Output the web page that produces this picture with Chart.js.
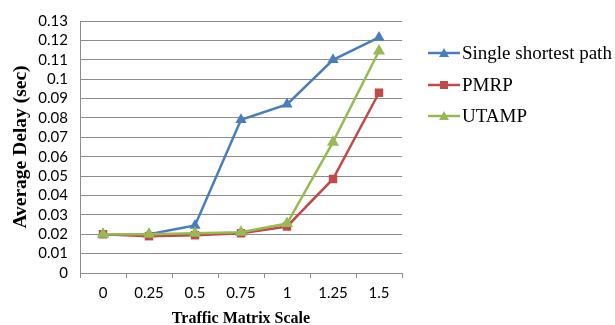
<!DOCTYPE html>
<html>
<head>
<meta charset="utf-8">
<style>
  html, body { margin: 0; padding: 0; background: #ffffff; }
  #wrap { width: 615px; height: 325px; position: relative; }
</style>
<script src="https://cdn.jsdelivr.net/npm/chart.js@4/dist/chart.umd.min.js"></script>
</head>
<body>
<div id="wrap"><canvas id="c" width="615" height="325"></canvas></div>
<script>
// Traffic matrix scale categories
const scales = ['0', '0.25', '0.5', '0.75', '1', '1.25', '1.5'];

// Average delay in seconds for each routing scheme
const singleShortestPath = [0.020, 0.020, 0.0245, 0.079, 0.087, 0.110, 0.1215];
const pmrp = [0.020, 0.019, 0.0195, 0.0205, 0.024, 0.0485, 0.093];
const utamp = [0.020, 0.020, 0.0205, 0.021, 0.0255, 0.0675, 0.1145];

const seriesNames = ['Single shortest path', 'PMRP', 'UTAMP'];
const colors = ['#4a7ebb', '#be4b48', '#98b954'];
const markers = ['triangle', 'rect', 'triangle'];
const markerSizes = [6.5, 6, 7];

// Legend drawn at the right: short line with the series marker in the middle
const sideLegend = {
  id: 'sideLegend',
  afterDraw(chart) {
    const ctx = chart.ctx;
    const rows = [53, 85, 116];
    ctx.save();
    chart.data.datasets.forEach((ds, i) => {
      const y = rows[i];
      ctx.strokeStyle = ds.borderColor;
      ctx.lineWidth = 2.5;
      ctx.beginPath();
      ctx.moveTo(428, y);
      ctx.lineTo(460, y);
      ctx.stroke();
      ctx.fillStyle = ds.borderColor;
      ctx.beginPath();
      if (ds.pointStyle === 'rect') {
        ctx.rect(440, y - 4, 8, 8);
      } else {
        ctx.moveTo(444, y - 5);
        ctx.lineTo(449, y + 4);
        ctx.lineTo(439, y + 4);
        ctx.closePath();
      }
      ctx.fill();
      ctx.fillStyle = '#000000';
      ctx.font = '19px "Liberation Serif", "Times New Roman", serif';
      ctx.textAlign = 'left';
      ctx.textBaseline = 'middle';
      ctx.fillText(ds.label, 462, y + 1);
    });
    ctx.restore();
  }
};

const values = [singleShortestPath, pmrp, utamp];
const orderOnTop = [2, 1, 0];

new Chart(document.getElementById('c'), {
  type: 'line',
  data: {
    labels: scales,
    datasets: values.map((v, i) => ({
      label: seriesNames[i],
      data: v,
      borderColor: colors[i],
      backgroundColor: colors[i],
      borderWidth: 2.5,
      pointStyle: markers[i],
      pointRadius: markerSizes[i],
      pointBorderWidth: 0,
      tension: 0,
      order: orderOnTop[i]
    }))
  },
  options: {
    responsive: false,
    animation: false,
    devicePixelRatio: 1,
    layout: { padding: { top: 17, right: 213, bottom: 0, left: 0 } },
    plugins: {
      legend: { display: false },
      tooltip: { enabled: false }
    },
    scales: {
      x: {
        type: 'category',
        offset: true,
        afterFit(axis) { axis.height = 52; },
        grid: {
          offset: true,
          drawOnChartArea: false,
          drawTicks: true,
          tickLength: 5,
          color: '#8c8c8c'
        },
        border: { color: '#8c8c8c', width: 1 },
        ticks: {
          color: '#000000',
          padding: 6,
          maxRotation: 0,
          autoSkip: false,
          font: { family: 'Lato, "Open Sans", sans-serif', size: 15 }
        },
        title: {
          display: true,
          text: 'Traffic Matrix Scale',
          color: '#000000',
          padding: { top: 0, bottom: -3 },
          font: { family: '"Liberation Serif", "Times New Roman", serif', size: 16, weight: 'bold' }
        }
      },
      y: {
        min: 0,
        max: 0.13,
        afterFit(axis) { axis.width = 80; },
        grid: {
          drawTicks: false,
          color: '#8c8c8c',
          lineWidth: 1
        },
        border: { color: '#8c8c8c', width: 1 },
        ticks: {
          stepSize: 0.01,
          autoSkip: false,
          color: '#000000',
          padding: 12,
          font: { family: 'Lato, "Open Sans", sans-serif', size: 15 },
          callback: (v) => String(+v.toFixed(2))
        },
        title: {
          display: true,
          text: 'Average Delay (sec)',
          color: '#000000',
          padding: { top: 9, bottom: 0 },
          font: { family: '"Liberation Serif", "Times New Roman", serif', size: 19.5, weight: 'bold' }
        }
      }
    }
  },
  plugins: [sideLegend]
});
</script>
</body>
</html>
